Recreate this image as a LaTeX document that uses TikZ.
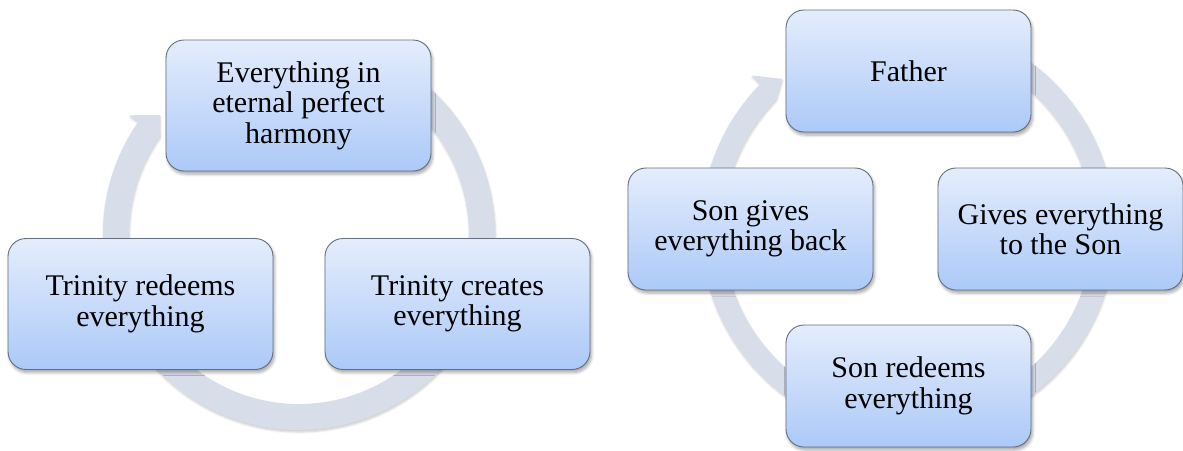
\documentclass[tikz,border=0pt]{standalone}
\usepackage{fontspec}
\setmainfont{Liberation Serif}
\newfontfamily\cyclefont{Liberation Serif}
\usetikzlibrary{calc,shadows.blur}
\definecolor{ringc}{RGB}{216,221,234}
\definecolor{boxtop}{RGB}{228,237,252}
\definecolor{boxbot}{RGB}{172,201,248}
\definecolor{boxline}{RGB}{100,110,125}
\tikzset{
  cyclebox/.style={rounded corners=18pt, draw=boxline, line width=0.9pt,
    top color=boxtop, bottom color=boxbot, align=center,
    font=\cyclefont\fontsize{30}{30.5}\selectfont, inner sep=0pt, text=black,
    blur shadow={shadow xshift=1.5pt, shadow yshift=-3pt, shadow blur steps=6,
      shadow opacity=35, shadow blur radius=3pt}},
  lbox/.style={cyclebox, minimum width=265pt, minimum height=131pt},
  rbox/.style={cyclebox, minimum width=245pt, minimum height=122pt},
  ringshape/.style={fill=ringc,
    blur shadow={shadow xshift=0.5pt, shadow yshift=-2pt, shadow blur steps=5,
      shadow opacity=20, shadow blur radius=2pt}}
}
\begin{document}
\begin{tikzpicture}[x=1pt,y=1pt]
\useasboundingbox (0,0) rectangle (1183,-450);
% ---------- left cycle ----------
\coordinate (cL) at (299,-234);
\fill[ringshape] ($(cL)+(60:196pt)$) arc[start angle=60,end angle=-215,radius=196pt]
  -- ($(cL)+(-215:207pt)$) -- ($(cL)+(-220.5:183pt)$) -- ($(cL)+(-215:170pt)$)
  arc[start angle=-215,end angle=60,radius=170pt] -- cycle;
\node[lbox] (harmony) at (298.5,-105.5) {Everything in\\eternal perfect\\harmony};
\node[lbox] (creates) at (457.5,-304) {Trinity creates\\everything};
\node[lbox] (redeems) at (140.5,-304) {Trinity redeems\\everything};
% ---------- right cycle ----------
\coordinate (cR) at (908,-229);
\fill[ringshape] ($(cR)+(60:207pt)$) arc[start angle=60,end angle=-224.5,radius=207pt]
  -- ($(cR)+(-224.5:219pt)$) -- ($(cR)+(-230:196pt)$) -- ($(cR)+(-224.5:185pt)$)
  arc[start angle=-224.5,end angle=60,radius=185pt] -- cycle;
\node[rbox] (father) at (908.5,-71) {Father};
\node[rbox] (gives) at (1060.5,-229) {Gives everything\\to the Son};
\node[rbox] (sonred) at (908.5,-386) {Son redeems\\everything};
\node[rbox] (songives) at (750.5,-229) {Son gives\\everything back};
\end{tikzpicture}
\end{document}
